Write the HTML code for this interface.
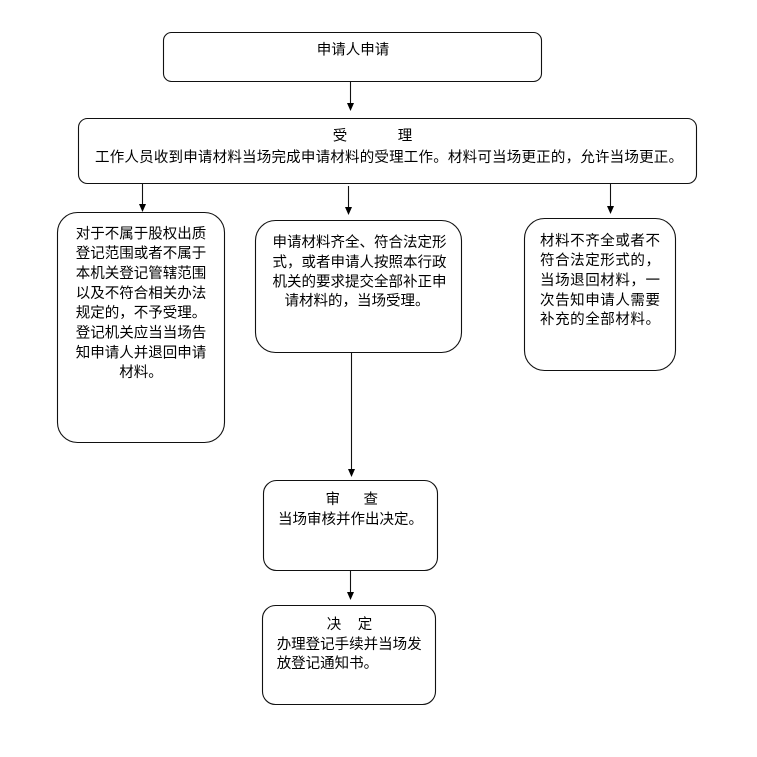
<!DOCTYPE html>
<html><head><meta charset="utf-8"><style>
html,body{margin:0;padding:0;background:#fff;}
svg{display:block;}
text{font-family:"Liberation Sans","Noto Sans CJK SC",sans-serif;font-size:14.5px;fill:#000;}
</style></head><body>
<svg width="757" height="757" viewBox="0 0 757 757" xmlns="http://www.w3.org/2000/svg">
<g fill="none" stroke="#111" stroke-width="1.1">
<rect x="163.5" y="32.5" width="378" height="49" rx="8"/>
<rect x="78.5" y="118.5" width="618" height="65" rx="9"/>
<rect x="57.5" y="212.5" width="167" height="230" rx="20"/>
<rect x="255.5" y="220.5" width="206" height="132" rx="20"/>
<rect x="524.5" y="218.5" width="151" height="152" rx="20"/>
<rect x="263.5" y="480.5" width="174" height="90" rx="13"/>
<rect x="262.5" y="605.5" width="173" height="99" rx="13"/>
<line x1="350.5" y1="81" x2="350.5" y2="104"/>
<line x1="142.5" y1="184" x2="142.5" y2="205"/>
<line x1="348.5" y1="186" x2="348.5" y2="208"/>
<line x1="610.5" y1="184" x2="610.5" y2="207"/>
<line x1="351.5" y1="353" x2="351.5" y2="470"/>
<line x1="350.5" y1="571" x2="350.5" y2="593"/>
</g>
<g fill="#000">
<polygon points="350.5,111 347,103 354,103"/>
<polygon points="142.5,212 139,204 146,204"/>
<polygon points="348.5,215 345,207 352,207"/>
<polygon points="610.5,214 607,206 614,206"/>
<polygon points="351.5,477 348,469 355,469"/>
<polygon points="350.5,600 347,592 354,592"/>
</g>

<text x="353" y="54.5" text-anchor="middle">申请人申请</text>

<text x="340" y="140.5" text-anchor="middle">受</text>
<text x="405" y="140.5" text-anchor="middle">理</text>
<text x="95" y="162.2" textLength="588" lengthAdjust="spacing">工作人员收到申请材料当场完成申请材料的受理工作。材料可当场更正的，允许当场更正。</text>

<g text-anchor="middle">
<text x="141" y="238.3">对于不属于股权出质</text>
<text x="141" y="258.2">登记范围或者不属于</text>
<text x="141" y="278">本机关登记管辖范围</text>
<text x="141" y="297.8">以及不符合相关办法</text>
<text x="141" y="317.7">规定的，不予受理。</text>
<text x="141" y="337.5">登记机关应当当场告</text>
<text x="141" y="357.4">知申请人并退回申请</text>
<text x="141" y="377.2">材料。</text>
</g>

<g text-anchor="middle">
<text x="359.5" y="247.2">申请材料齐全、符合法定形</text>
<text x="359.5" y="267">式，或者申请人按照本行政</text>
<text x="359.5" y="286.5">机关的要求提交全部补正申</text>
<text x="357" y="305.5">请材料的，当场受理。</text>
</g>

<text x="540" y="245.5" textLength="120" lengthAdjust="spacing">材料不齐全或者不</text>
<text x="540" y="264.8" textLength="120" lengthAdjust="spacing">符合法定形式的，</text>
<text x="540" y="284.8" textLength="120" lengthAdjust="spacing">当场退回材料，一</text>
<text x="540" y="304.8" textLength="120" lengthAdjust="spacing">次告知申请人需要</text>
<text x="540" y="323.8" textLength="120" lengthAdjust="spacing">补充的全部材料。</text>

<text x="332.7" y="503.8" text-anchor="middle">审</text>
<text x="370.7" y="503.8" text-anchor="middle">查</text>
<text x="350.5" y="523.8" text-anchor="middle">当场审核并作出决定。</text>

<text x="334" y="628.8" text-anchor="middle">决</text>
<text x="365" y="628.8" text-anchor="middle">定</text>
<text x="276.7" y="648.8">办理登记手续并当场发</text>
<text x="276.7" y="668.2">放登记通知书。</text>
</svg>
</body></html>
